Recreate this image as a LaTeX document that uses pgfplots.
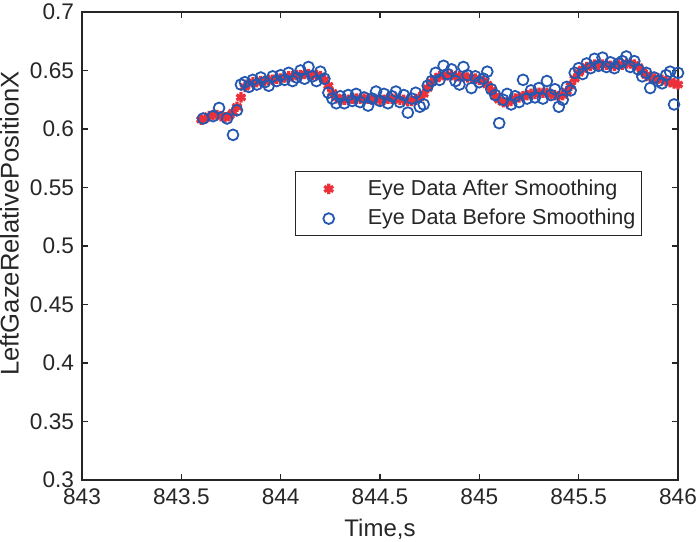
\documentclass[border=0pt]{standalone}
\usepackage{fontspec}
\setmainfont{Liberation Sans}
\usepackage{pgfplots}
\pgfplotsset{compat=1.18}
\usepackage{pgfplotstable}

\definecolor{axgray}{RGB}{38,38,38}
\definecolor{eyered}{RGB}{236,48,58}
\definecolor{eyeblue}{RGB}{36,88,176}

% smoothed gaze signal
\pgfplotstableread{
t v
843.60 0.608
843.62 0.609
843.64 0.611
843.66 0.612
843.68 0.612
843.70 0.611
843.72 0.610
843.74 0.611
843.76 0.614
843.78 0.619
843.80 0.627
843.82 0.636
843.84 0.639
843.86 0.640
843.88 0.640
843.90 0.641
843.92 0.641
843.94 0.642
843.96 0.642
843.98 0.643
844.00 0.643
844.02 0.644
844.04 0.645
844.06 0.645
844.08 0.646
844.10 0.646
844.12 0.647
844.14 0.647
844.16 0.646
844.18 0.646
844.20 0.645
844.22 0.642
844.24 0.637
844.26 0.631
844.28 0.627
844.30 0.625
844.32 0.625
844.34 0.625
844.36 0.626
844.38 0.626
844.40 0.626
844.42 0.626
844.44 0.626
844.46 0.625
844.48 0.625
844.50 0.625
844.52 0.625
844.54 0.626
844.56 0.626
844.58 0.626
844.60 0.625
844.62 0.625
844.64 0.624
844.66 0.624
844.68 0.625
844.70 0.627
844.72 0.630
844.74 0.635
844.76 0.640
844.78 0.643
844.80 0.645
844.82 0.646
844.84 0.646
844.86 0.646
844.88 0.645
844.90 0.645
844.92 0.645
844.94 0.644
844.96 0.644
844.98 0.643
845.00 0.642
845.02 0.641
845.04 0.638
845.06 0.633
845.08 0.628
845.10 0.625
845.12 0.623
845.14 0.623
845.16 0.624
845.18 0.626
845.20 0.627
845.22 0.628
845.24 0.629
845.26 0.630
845.28 0.630
845.30 0.631
845.32 0.631
845.34 0.631
845.36 0.630
845.38 0.629
845.40 0.628
845.42 0.629
845.44 0.632
845.46 0.637
845.48 0.643
845.50 0.648
845.52 0.651
845.54 0.653
845.56 0.654
845.58 0.655
845.60 0.655
845.62 0.655
845.64 0.655
845.66 0.654
845.68 0.654
845.70 0.655
845.72 0.655
845.74 0.656
845.76 0.656
845.78 0.655
845.80 0.653
845.82 0.649
845.84 0.646
845.86 0.644
845.88 0.643
845.90 0.643
845.92 0.642
845.94 0.641
845.96 0.640
845.98 0.639
846.00 0.638
}\smoothed

% raw gaze samples
\pgfplotstableread{
t v
843.61 0.609
843.66 0.611
843.69 0.618
843.73 0.609
843.76 0.595
843.78 0.616
843.80 0.638
843.82 0.640
843.84 0.636
843.86 0.642
843.88 0.638
843.90 0.644
843.92 0.640
843.94 0.637
843.96 0.645
843.98 0.641
844.00 0.646
844.02 0.642
844.04 0.648
844.06 0.641
844.08 0.644
844.10 0.650
844.12 0.643
844.14 0.653
844.16 0.645
844.18 0.641
844.20 0.649
844.22 0.643
844.24 0.631
844.26 0.626
844.28 0.622
844.30 0.628
844.32 0.622
844.34 0.629
844.36 0.624
844.38 0.630
844.40 0.623
844.42 0.627
844.44 0.620
844.46 0.626
844.48 0.632
844.50 0.624
844.52 0.630
844.54 0.622
844.56 0.628
844.58 0.632
844.60 0.623
844.62 0.629
844.64 0.614
844.66 0.626
844.68 0.631
844.70 0.619
844.72 0.621
844.74 0.637
844.76 0.641
844.78 0.648
844.80 0.642
844.82 0.654
844.84 0.647
844.86 0.651
844.88 0.641
844.90 0.638
844.92 0.653
844.94 0.646
844.96 0.635
844.98 0.645
845.00 0.640
845.02 0.643
845.04 0.649
845.06 0.634
845.08 0.629
845.10 0.605
845.12 0.625
845.14 0.630
845.16 0.621
845.18 0.628
845.20 0.623
845.22 0.642
845.24 0.626
845.26 0.633
845.28 0.627
845.30 0.635
845.32 0.626
845.34 0.641
845.36 0.629
845.38 0.634
845.40 0.619
845.42 0.625
845.44 0.636
845.46 0.633
845.48 0.648
845.50 0.652
845.52 0.647
845.54 0.656
845.56 0.652
845.58 0.660
845.60 0.654
845.62 0.661
845.64 0.653
845.66 0.657
845.68 0.652
845.70 0.656
845.72 0.658
845.74 0.662
845.76 0.653
845.78 0.658
845.80 0.651
845.82 0.645
845.84 0.648
845.86 0.635
845.88 0.644
845.90 0.641
845.92 0.639
845.94 0.646
845.96 0.649
845.98 0.621
846.00 0.648
}\raw

\begin{document}
\begin{tikzpicture}[font=\fontsize{11.3}{13}\selectfont]
  \begin{axis}[
      name=ax,
      scale only axis,
      width=298pt, height=234pt,
      xmin=843, xmax=846, ymin=0.3, ymax=0.7,
      xtick={843,843.5,...,846},
      ytick={0.3,0.35,...,0.7},
      /pgf/number format/assume math mode=true,
      scaled x ticks=false, scaled y ticks=false,
      tick align=inside,
      major tick length=3pt,
      axis line style={axgray, line width=0.7pt},
      every tick/.style={axgray, line width=0.6pt},
      tick label style={text=axgray},
      xticklabel style={/pgf/number format/fixed, /pgf/number format/precision=1, yshift=-1pt},
      yticklabel style={/pgf/number format/fixed, /pgf/number format/precision=2, xshift=-0.5pt},
      xlabel={Time,s},
      ylabel={LeftGazeRelativePositionX},
      xlabel style={text=axgray, font=\fontsize{12}{14}\selectfont,
        at={(axis description cs:0.5,-0.068)}, anchor=north},
      ylabel style={text=axgray, font=\fontsize{12.8}{14}\selectfont,
        at={(axis description cs:-0.094,0.548)}, anchor=south},
      legend style={at={(rel axis cs:0.9396,0.660)}, anchor=north east,
        draw=axgray, line width=0.5pt, text=axgray,
        font=\fontsize{10.8}{12}\selectfont, row sep=1.5pt,
        inner xsep=1pt, inner ysep=2pt},
      legend cell align=left,
      legend image code/.code={%
        \path[draw=none, fill=none] (0pt,-2pt) rectangle (33pt,2pt);
        \draw[#1] plot coordinates {(15.5pt,0pt)};},
    ]
    \addplot[only marks, mark=asterisk, mark size=2.6pt, eyered, line width=1.6pt]
      table[x=t, y=v]{\smoothed};
    \addlegendentry{Eye Data After Smoothing}
    \addplot[only marks, mark=o, mark size=2.7pt, eyeblue, line width=0.9pt]
      table[x=t, y=v]{\raw};
    \addlegendentry{Eye Data Before Smoothing}
  \end{axis}
  \pgfresetboundingbox
  \path[use as bounding box] ([shift={(-41pt,-30.5pt)}]ax.south west)
    rectangle ([shift={(11pt,6pt)}]ax.north east);
\end{tikzpicture}
\end{document}
